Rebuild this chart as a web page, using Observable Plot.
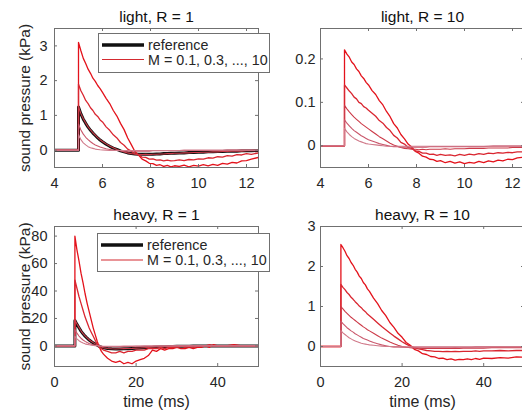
<!DOCTYPE html>
<html>
<head>
<meta charset="utf-8">
<script src="https://cdn.jsdelivr.net/npm/d3@7"></script>
<script src="https://cdn.jsdelivr.net/npm/@observablehq/plot@0.6"></script>
<style>
  html, body { margin: 0; padding: 0; background: #fff; overflow: hidden; }
  #wrap { position: relative; width: 522px; height: 414px; overflow: hidden; background: #fff;
          font-family: "Liberation Sans", Arial, sans-serif; }
  .panel { position: absolute; }
  .legend { position: absolute; }
</style>
</head>
<body>
<div id="wrap"></div>
<script>
// ---------------- data ----------------
const tLight = [4, 5, 5, 5.1, 5.2, 5.3, 5.4, 5.5, 5.6, 5.7,
  5.8, 5.9, 6.0, 6.15, 6.3, 6.45, 6.6, 6.75, 6.9, 7.05,
  7.2, 7.35, 7.5, 7.65, 7.8, 7.95, 8.1, 8.25, 8.4, 8.55,
  8.7, 8.85, 9.0, 9.2, 9.4, 9.6, 9.8, 10.0, 10.2, 10.4,
  10.6, 10.8, 11.0, 11.2, 11.4, 11.6, 11.8, 12.0, 12.2, 12.5];

const tHeavy = [0, 5, 5, 5.5, 6, 6.5, 7, 7.5, 8, 8.5,
  9, 9.5, 10, 10.5, 11, 11.5, 12, 13, 14, 15,
  16, 17, 18, 19, 20, 21, 22, 23, 24, 25,
  26, 27, 28, 29, 30, 31, 32, 33, 34, 35,
  36, 37, 38, 39, 40, 42, 44, 46, 48, 50];

const massLabels = ["M = 10", "M = 3", "M = 1", "M = 0.3", "M = 0.1"];

// light, R = 1
const lightR1_ref = [0, 0, 1.24, 1.04, 0.89, 0.77, 0.66, 0.57, 0.49, 0.42,
  0.35, 0.29, 0.24, 0.17, 0.11, 0.06, 0.02, -0.02, -0.05, -0.08,
  -0.10, -0.11, -0.12, -0.12, -0.12, -0.12, -0.12, -0.11, -0.11, -0.10,
  -0.10, -0.09, -0.09, -0.08, -0.08, -0.07, -0.07, -0.06, -0.06, -0.05,
  -0.05, -0.04, -0.04, -0.03, -0.03, -0.03, -0.02, -0.02, -0.02, -0.01];
const lightR1_m10 = [0, 0, 3.10, 2.86, 2.64, 2.49, 2.33, 2.21, 2.07, 1.98,
  1.86, 1.77, 1.66, 1.49, 1.34, 1.14, 0.98, 0.77, 0.59, 0.35,
  0.16, -0.04, -0.14, -0.26, -0.31, -0.38, -0.39, -0.44, -0.42, -0.47,
  -0.44, -0.48, -0.45, -0.47, -0.43, -0.48, -0.44, -0.46, -0.42, -0.45,
  -0.41, -0.44, -0.38, -0.40, -0.35, -0.37, -0.31, -0.30, -0.26, -0.21];
const lightR1_m3 = [0, 0, 1.90, 1.71, 1.58, 1.43, 1.34, 1.22, 1.14, 1.03,
  0.97, 0.87, 0.81, 0.67, 0.57, 0.44, 0.35, 0.22, 0.14, 0.03,
  -0.03, -0.11, -0.14, -0.20, -0.21, -0.26, -0.25, -0.29, -0.28, -0.31,
  -0.29, -0.31, -0.30, -0.28, -0.30, -0.27, -0.28, -0.25, -0.26, -0.22,
  -0.23, -0.19, -0.20, -0.16, -0.17, -0.13, -0.14, -0.10, -0.12, -0.08];
const lightR1_m1 = [0, 0, 1.25, 1.05, 0.90, 0.78, 0.67, 0.58, 0.50, 0.43,
  0.36, 0.30, 0.25, 0.18, 0.12, 0.07, 0.02, -0.02, -0.05, -0.08,
  -0.10, -0.11, -0.12, -0.13, -0.12, -0.13, -0.12, -0.12, -0.11, -0.11,
  -0.10, -0.10, -0.09, -0.09, -0.08, -0.08, -0.07, -0.07, -0.06, -0.06,
  -0.05, -0.05, -0.04, -0.04, -0.03, -0.03, -0.03, -0.02, -0.02, -0.02];
const lightR1_m03 = [0, 0, 0.75, 0.58, 0.46, 0.37, 0.30, 0.24, 0.19, 0.15,
  0.12, 0.09, 0.07, 0.04, 0.02, 0.00, -0.01, -0.02, -0.03, -0.03,
  -0.03, -0.03, -0.03, -0.03, -0.03, -0.03, -0.02, -0.02, -0.02, -0.02,
  -0.02, -0.02, -0.02, -0.01, -0.01, -0.01, -0.01, -0.01, -0.01, -0.01,
  -0.01, -0.01, -0.01, 0, 0, 0, 0, 0, 0, 0];
const lightR1_m01 = [0, 0, 0.45, 0.30, 0.21, 0.15, 0.10, 0.07, 0.05, 0.03,
  0.02, 0.01, 0.005, 0, -0.01, -0.01, -0.01, -0.01, -0.01, -0.01,
  -0.01, -0.01, -0.01, -0.01, -0.01, -0.01, -0.01, -0.01, -0.01, -0.01,
  -0.01, -0.01, -0.01, -0.01, 0, 0, 0, 0, 0, 0,
  0, 0, 0, 0, 0, 0, 0, 0, 0, 0];

// light, R = 10
const lightR10_m10 = [0, 0, 0.221, 0.211, 0.204, 0.193, 0.187, 0.177, 0.171, 0.161,
  0.155, 0.146, 0.140, 0.127, 0.118, 0.104, 0.094, 0.079, 0.067, 0.051,
  0.041, 0.026, 0.016, 0.004, -0.003, -0.013, -0.017, -0.024, -0.026, -0.031,
  -0.032, -0.036, -0.034, -0.039, -0.036, -0.040, -0.037, -0.041, -0.038, -0.040,
  -0.036, -0.039, -0.035, -0.037, -0.033, -0.035, -0.031, -0.032, -0.028, -0.026];
const lightR10_m3 = [0, 0, 0.140, 0.133, 0.126, 0.120, 0.112, 0.108, 0.100, 0.097,
  0.090, 0.087, 0.082, 0.075, 0.068, 0.058, 0.052, 0.042, 0.035, 0.024,
  0.018, 0.008, 0.004, -0.004, -0.006, -0.012, -0.013, -0.017, -0.017, -0.020,
  -0.019, -0.022, -0.020, -0.022, -0.021, -0.023, -0.020, -0.022, -0.019, -0.021,
  -0.018, -0.020, -0.017, -0.018, -0.016, -0.017, -0.015, -0.016, -0.014, -0.014];
const lightR10_m1 = [0, 0, 0.093, 0.085, 0.078, 0.072, 0.066, 0.061, 0.056, 0.051,
  0.047, 0.043, 0.039, 0.033, 0.027, 0.021, 0.016, 0.011, 0.006, 0.002,
  -0.001, -0.004, -0.006, -0.007, -0.008, -0.008, -0.009, -0.008, -0.009, -0.008,
  -0.008, -0.008, -0.008, -0.007, -0.008, -0.007, -0.007, -0.007, -0.006, -0.006,
  -0.006, -0.006, -0.005, -0.005, -0.005, -0.005, -0.005, -0.004, -0.004, -0.004];
const lightR10_m03 = [0, 0, 0.060, 0.052, 0.046, 0.040, 0.035, 0.031, 0.027, 0.023,
  0.020, 0.017, 0.014, 0.011, 0.008, 0.005, 0.003, 0.001, -0.001, -0.002,
  -0.002, -0.003, -0.003, -0.003, -0.003, -0.003, -0.003, -0.003, -0.003, -0.002,
  -0.002, -0.002, -0.002, -0.002, -0.002, -0.002, -0.002, -0.002, -0.002, -0.002,
  -0.002, -0.002, -0.001, -0.001, -0.001, -0.001, -0.001, -0.001, -0.001, -0.001];
const lightR10_m01 = [0, 0, 0.040, 0.032, 0.026, 0.021, 0.017, 0.014, 0.011, 0.009,
  0.007, 0.005, 0.004, 0.003, 0.002, 0.001, 0, -0.001, -0.001, -0.001,
  -0.001, -0.001, -0.001, -0.001, -0.001, -0.001, -0.001, -0.001, -0.001, -0.001,
  -0.001, -0.001, -0.001, -0.001, -0.001, -0.001, -0.001, -0.001, -0.001, -0.001,
  -0.001, -0.001, -0.001, 0, 0, 0, 0, 0, 0, 0];

// heavy, R = 1
const heavyR1_ref = [0, 0, 18.5, 15.7, 13.2, 10.8, 8.8, 7.1, 5.6, 4.3,
  3.2, 2.2, 1.3, 0.5, -0.3, -0.9, -1.4, -1.9, -2.1, -2.2,
  -2.2, -2.1, -2.0, -1.8, -1.7, -1.5, -1.3, -1.1, -1.0, -0.8,
  -0.7, -0.6, -0.5, -0.4, -0.3, -0.3, -0.2, -0.2, -0.1, -0.1,
  -0.1, -0.1, 0, 0, 0, 0, 0, 0, 0, 0];
const heavyR1_m10 = [0, 0, 80, 70, 62, 53, 46, 38, 31, 25,
  19, 13, 8, 3, -1, -4, -6, -9, -11, -12,
  -11, -13, -12, -13, -11, -10, -9, -7, -3, -4,
  -2, -3, -2, -2, -1, -2, -2, -1, -2, -1,
  -1, 0, -1, 1, 0, 0, 1, 0, 0, 0];
const heavyR1_m3 = [0, 0, 48, 42, 36, 31, 26, 21, 17, 13,
  10, 7, 4, 1, -1, -2, -3, -4, -5, -5,
  -4, -5, -4, -4, -3, -3, -3, -2, -2, -2,
  -1, -2, -1, -1, -1, 0, -1, 0, -1, 0,
  0, 0, 1, 0, 0, 0, 0, 0, 0, 0];
const heavyR1_m1 = [0, 0, 19, 16, 13.5, 11, 9, 7.3, 5.8, 4.5,
  3.4, 2.4, 1.5, 0.6, -0.2, -0.8, -1.3, -1.9, -2.1, -2.2,
  -2.1, -2.0, -1.9, -1.8, -1.6, -1.5, -1.3, -1.1, -0.9, -0.8,
  -0.7, -0.6, -0.5, -0.4, -0.3, -0.3, -0.2, -0.2, -0.1, -0.1,
  -0.1, 0, 0, 0, 0, 0, 0, 0, 0, 0];
const heavyR1_m03 = [0, 0, 12, 9.3, 7.2, 5.6, 4.3, 3.3, 2.5, 1.8,
  1.3, 0.8, 0.4, 0.1, -0.2, -0.4, -0.5, -0.6, -0.6, -0.6,
  -0.5, -0.5, -0.4, -0.4, -0.3, -0.3, -0.2, -0.2, -0.2, -0.1,
  -0.1, -0.1, -0.1, 0, 0, 0, 0, 0, 0, 0,
  0, 0, 0, 0, 0, 0, 0, 0, 0, 0];
const heavyR1_m01 = [0, 0, 7, 5.1, 3.8, 2.8, 2.1, 1.5, 1.1, 0.8,
  0.5, 0.3, 0.2, 0.1, 0, -0.1, -0.2, -0.2, -0.2, -0.2,
  -0.2, -0.1, -0.1, -0.1, -0.1, -0.1, 0, 0, 0, 0,
  0, 0, 0, 0, 0, 0, 0, 0, 0, 0,
  0, 0, 0, 0, 0, 0, 0, 0, 0, 0];

// heavy, R = 10
const heavyR10_m10 = [0, 0, 2.55, 2.47, 2.38, 2.27, 2.20, 2.10, 2.03, 1.93,
  1.86, 1.76, 1.70, 1.60, 1.54, 1.44, 1.38, 1.21, 1.07, 0.90,
  0.77, 0.60, 0.48, 0.33, 0.23, 0.10, 0.03, -0.07, -0.11, -0.18,
  -0.20, -0.25, -0.26, -0.30, -0.29, -0.33, -0.31, -0.34, -0.32, -0.33,
  -0.31, -0.33, -0.30, -0.32, -0.29, -0.30, -0.28, -0.29, -0.26, -0.27];
const heavyR10_m3 = [0, 0, 1.55, 1.48, 1.42, 1.35, 1.30, 1.23, 1.18, 1.12,
  1.07, 1.01, 0.97, 0.91, 0.87, 0.81, 0.77, 0.68, 0.59, 0.50,
  0.42, 0.34, 0.26, 0.19, 0.12, 0.06, 0.01, -0.03, -0.06, -0.08,
  -0.10, -0.11, -0.12, -0.12, -0.13, -0.12, -0.13, -0.12, -0.13, -0.12,
  -0.12, -0.12, -0.11, -0.12, -0.11, -0.11, -0.10, -0.11, -0.10, -0.10];
const heavyR10_m1 = [0, 0, 1.00, 0.94, 0.88, 0.83, 0.78, 0.73, 0.69, 0.65,
  0.61, 0.57, 0.53, 0.49, 0.46, 0.42, 0.39, 0.33, 0.27, 0.21,
  0.16, 0.11, 0.07, 0.03, 0.00, -0.02, -0.03, -0.04, -0.04, -0.05,
  -0.05, -0.05, -0.05, -0.05, -0.05, -0.05, -0.05, -0.04, -0.05, -0.04,
  -0.04, -0.04, -0.04, -0.04, -0.04, -0.03, -0.03, -0.03, -0.03, -0.03];
const heavyR10_m03 = [0, 0, 0.63, 0.57, 0.52, 0.47, 0.43, 0.39, 0.36, 0.32,
  0.29, 0.26, 0.23, 0.20, 0.18, 0.16, 0.14, 0.10, 0.07, 0.04,
  0.02, 0.00, -0.01, -0.01, -0.02, -0.02, -0.02, -0.02, -0.02, -0.02,
  -0.02, -0.02, -0.02, -0.02, -0.02, -0.02, -0.02, -0.02, -0.02, -0.02,
  -0.02, -0.02, -0.01, -0.01, -0.01, -0.01, -0.01, -0.01, -0.01, -0.01];
const heavyR10_m01 = [0, 0, 0.40, 0.34, 0.30, 0.26, 0.22, 0.19, 0.16, 0.14,
  0.12, 0.10, 0.08, 0.07, 0.06, 0.05, 0.04, 0.03, 0.02, 0.01,
  0.00, 0.00, -0.01, -0.01, -0.01, -0.01, -0.01, -0.01, -0.01, -0.01,
  -0.01, -0.01, -0.01, -0.01, -0.01, -0.01, -0.01, -0.01, -0.01, -0.01,
  -0.01, -0.01, -0.01, -0.01, -0.01, 0, 0, 0, 0, 0];

const xTicksLight = [4, 6, 8, 10, 12];
const xTicksHeavy = [0, 20, 40];
const yTicksLR1 = [0, 1, 2, 3];
const yTicksLR10 = [0, 0.1, 0.2];
const yTicksHR1 = [0, 20, 40, 60, 80];
const yTicksHR10 = [0, 1, 2, 3];

const titles = ["light, R = 1", "light, R = 10", "heavy, R = 1", "heavy, R = 10"];
const yLabel = "sound pressure (kPa)";
const xLabel = "time (ms)";
const legendLabels = ["reference", "M = 0.1, 0.3, ..., 10"];

// ---------------- styling ----------------
const redShades = ["#e3121b", "#d92630", "#cc3a48", "#c9566a", "#d07a8a"]; // M = 10, 3, 1, 0.3, 0.1
const refColor = "#111111";
const axisColor = "#707070";
const textColor = "#262626";
const FONT = "Liberation Sans, Arial, Helvetica, sans-serif";
const fmt = d => String(d);

const wrap = document.getElementById("wrap");

function panel({t, ref, series, xDomain, xTicks, yDomain, yTicks, title, showY, showX,
                left, top, width, height, mL, mR, mT, mB, tickPad}) {
  const innerW = width - mL - mR;
  const innerH = height - mT - mB;
  const marks = [];
  if (ref) {
    marks.push(Plot.line(t.map((x, i) => ({t: x, v: ref[i]})),
      {x: "t", y: "v", stroke: refColor, strokeWidth: 3, clip: true}));
  }
  series.forEach((vals, k) => {
    marks.push(Plot.line(t.map((x, i) => ({t: x, v: vals[i], m: massLabels[k]})),
      {x: "t", y: "v", stroke: redShades[k], strokeWidth: k < 2 ? 1.3 : 1.1, clip: true}));
  });
  marks.push(Plot.frame({stroke: axisColor, strokeWidth: 1}));
  // inward ticks on all four sides
  marks.push(Plot.ruleX(xTicks, {x: d => d, stroke: axisColor, insetTop: innerH - 3}));
  marks.push(Plot.ruleX(xTicks, {x: d => d, stroke: axisColor, insetBottom: innerH - 3}));
  marks.push(Plot.ruleY(yTicks, {y: d => d, stroke: axisColor, insetRight: innerW - 3}));
  marks.push(Plot.ruleY(yTicks, {y: d => d, stroke: axisColor, insetLeft: innerW - 3}));
  marks.push(Plot.text([title], {frameAnchor: "top", dy: -6.5, lineAnchor: "bottom",
    fontSize: 15.5, fill: "#111"}));
  if (showY) {
    marks.push(Plot.text([yLabel], {frameAnchor: "left", dx: -29, rotate: -90,
      lineAnchor: "middle", textAnchor: "middle", fontSize: 15.5, fill: textColor}));
  }
  if (showX) {
    marks.push(Plot.text([xLabel], {frameAnchor: "bottom", dy: 40.5, lineAnchor: "bottom",
      fontSize: 16, fill: textColor}));
  }
  const svg = Plot.plot({
    width, height,
    marginLeft: mL, marginRight: mR, marginTop: mT, marginBottom: mB,
    style: {fontFamily: FONT, fontSize: "14.5px", color: textColor, background: "transparent", overflow: "visible"},
    x: {domain: xDomain, ticks: xTicks, tickFormat: fmt, tickSize: 0, tickPadding: 10, label: null},
    y: {domain: yDomain, ticks: yTicks, tickFormat: fmt, tickSize: 0, tickPadding: tickPad, label: null},
    marks
  });
  const div = document.createElement("div");
  div.className = "panel";
  div.style.left = left + "px";
  div.style.top = top + "px";
  div.style.width = width + "px";
  div.style.height = height + "px";
  div.appendChild(svg);
  wrap.appendChild(div);
}

function legend(left, top, w, h, y1, y2) {
  const ns = "http://www.w3.org/2000/svg";
  const svg = document.createElementNS(ns, "svg");
  svg.setAttribute("width", w);
  svg.setAttribute("height", h);
  svg.setAttribute("class", "legend");
  svg.style.left = left + "px";
  svg.style.top = top + "px";
  const rect = document.createElementNS(ns, "rect");
  rect.setAttribute("x", 0.5); rect.setAttribute("y", 0.5);
  rect.setAttribute("width", w - 1); rect.setAttribute("height", h - 1);
  rect.setAttribute("fill", "#fff"); rect.setAttribute("stroke", axisColor);
  svg.appendChild(rect);
  const items = [[legendLabels[0], refColor, 3.5, y1], [legendLabels[1], "#d42a30", 1.1, y2]];
  for (const [label, color, sw, y] of items) {
    const ln = document.createElementNS(ns, "line");
    ln.setAttribute("x1", 4); ln.setAttribute("x2", 46);
    ln.setAttribute("y1", y); ln.setAttribute("y2", y);
    ln.setAttribute("stroke", color); ln.setAttribute("stroke-width", sw);
    svg.appendChild(ln);
    const tx = document.createElementNS(ns, "text");
    tx.setAttribute("x", 50); tx.setAttribute("y", y);
    tx.setAttribute("dy", "0.35em");
    tx.setAttribute("fill", textColor);
    tx.setAttribute("font-family", FONT);
    tx.setAttribute("font-size", "14.3px");
    tx.textContent = label;
    svg.appendChild(tx);
  }
  wrap.appendChild(svg);
}

panel({t: tLight, ref: lightR1_ref,
  series: [lightR1_m10, lightR1_m3, lightR1_m1, lightR1_m03, lightR1_m01],
  xDomain: [4, 12.5], xTicks: xTicksLight, yDomain: [-0.5, 3.5], yTicks: yTicksLR1,
  title: titles[0], showY: true, showX: false,
  left: 0, top: 0, width: 290, height: 200, mL: 54, mR: 32, mT: 28, mB: 33, tickPad: 7});

panel({t: tLight, ref: null,
  series: [lightR10_m10, lightR10_m3, lightR10_m1, lightR10_m03, lightR10_m01],
  xDomain: [4, 12.5], xTicks: xTicksLight, yDomain: [-0.05, 0.27], yTicks: yTicksLR10,
  title: titles[1], showY: false, showX: false,
  left: 266, top: 0, width: 266, height: 200, mL: 54, mR: 8, mT: 28, mB: 33, tickPad: 5});

panel({t: tHeavy, ref: heavyR1_ref,
  series: [heavyR1_m10, heavyR1_m3, heavyR1_m1, heavyR1_m03, heavyR1_m01],
  xDomain: [0, 50], xTicks: xTicksHeavy, yDomain: [-15, 87], yTicks: yTicksHR1,
  title: titles[2], showY: true, showX: true,
  left: 0, top: 200, width: 290, height: 214, mL: 54, mR: 32, mT: 26, mB: 48, tickPad: 7});

panel({t: tHeavy, ref: null,
  series: [heavyR10_m10, heavyR10_m3, heavyR10_m1, heavyR10_m03, heavyR10_m01],
  xDomain: [0, 50], xTicks: xTicksHeavy, yDomain: [-0.5, 3], yTicks: yTicksHR10,
  title: titles[3], showY: false, showX: true,
  left: 266, top: 200, width: 266, height: 214, mL: 54, mR: 8, mT: 26, mB: 48, tickPad: 5});

legend(98, 33, 172, 40, 12, 26.5);
legend(97, 233, 173, 39, 12, 27);
</script>
</body>
</html>
